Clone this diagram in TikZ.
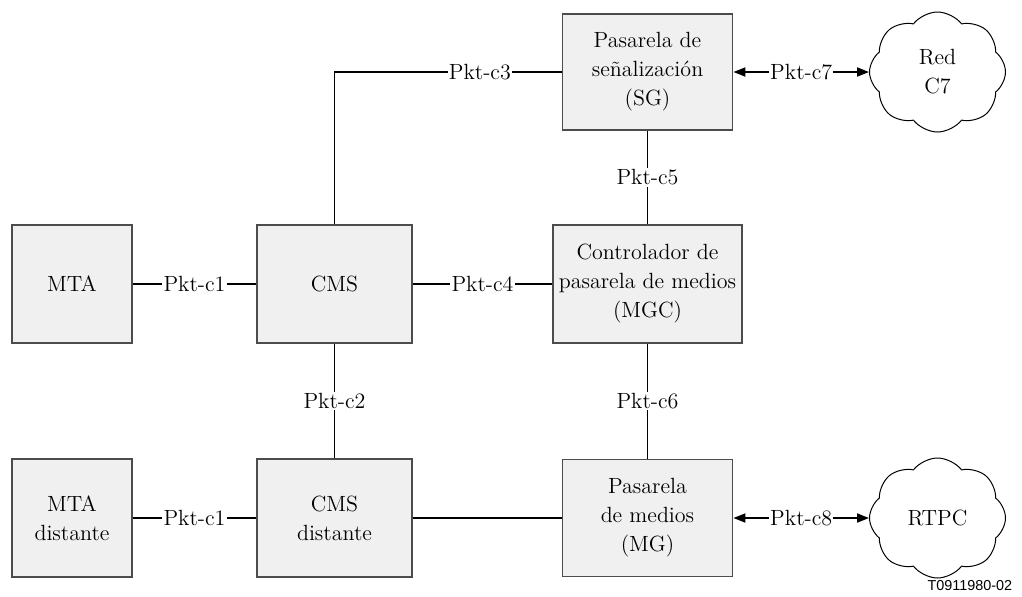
\documentclass[tikz,border=0pt]{standalone}
\usepackage{fontspec}
\newfontfamily\tagfont{Liberation Sans}
\usetikzlibrary{shapes.symbols,arrows.meta}

\begin{document}
\begin{tikzpicture}[x=0.5pt, y=-0.5pt, line width=0.9pt, >={Triangle[length=6pt,width=4.5pt]},
                    every node/.style={font=\rmfamily\fontsize{11}{14.5}\selectfont},
                    main node/.style={rectangle,draw=black!70,fill=black!6,line width=0.9pt,align=center,inner sep=1pt},
                    net node/.style={cloud,draw,cloud puffs=8,cloud puff arc=105,aspect=1.13,
                                     minimum width=68pt,minimum height=60pt,line width=0.5pt,align=center,inner sep=0pt},
                    lbl/.style={fill=white,inner sep=0.6pt}]

  \useasboundingbox (0,0) rectangle (1022,596);

  \node[main node,minimum width=60pt,minimum height=59pt] (mta) at (72,284) {MTA};
  \node[main node,minimum width=77.5pt,minimum height=59pt] (cms) [right of=mta, node distance=131.25pt] {CMS};
  \node[main node,minimum width=94.5pt,minimum height=59pt] (mgc) [right of=cms, node distance=156.5pt] {Controlador de\\pasarela de medios\\(MGC)};
  \node[main node,minimum width=85pt,minimum height=58pt] (sg) [above of=mgc, node distance=106pt] {Pasarela de\\señalización\\(SG)};
  \node[net node] (redc7) [right of=sg, node distance=145pt] {Red\\C7};
  \node[main node,minimum width=60pt,minimum height=59pt] (mtad) [below of=mta, node distance=117pt] {MTA\\distante};
  \node[main node,minimum width=77.5pt,minimum height=59pt] (cmsd) [below of=cms, node distance=117pt] {CMS\\distante};
  \node[main node,minimum width=85pt,minimum height=58.5pt] (mg) [below of=mgc, node distance=117pt] {Pasarela\\de medios\\(MG)};
  \node[net node] (rtpc) [right of=mg, node distance=145pt] {RTPC};
  \node[font=\tagfont\fontsize{7.2}{9}\selectfont,anchor=east,inner sep=0pt] (ref) at (1013,586) {T0911980-02};

\path
    (mta) edge node[lbl] {Pkt-c1} (cms)
    (cms) edge node[lbl] {Pkt-c4} (mgc)
    (cms) edge node[lbl] {Pkt-c2} (cmsd)
    (sg) edge node[lbl] {Pkt-c5} (mgc)
    (mgc) edge node[lbl] {Pkt-c6} (mg)
    (mtad) edge node[lbl] {Pkt-c1} (cmsd)
    (cmsd) edge (mg)

    (sg) edge[<->] node[lbl] {Pkt-c7} (redc7)
    (mg) edge[<->] node[lbl] {Pkt-c8} (rtpc);

  \draw (cms.north) |- node[lbl,pos=0.82] {Pkt-c3} (sg.west);

\end{tikzpicture}
\end{document}
